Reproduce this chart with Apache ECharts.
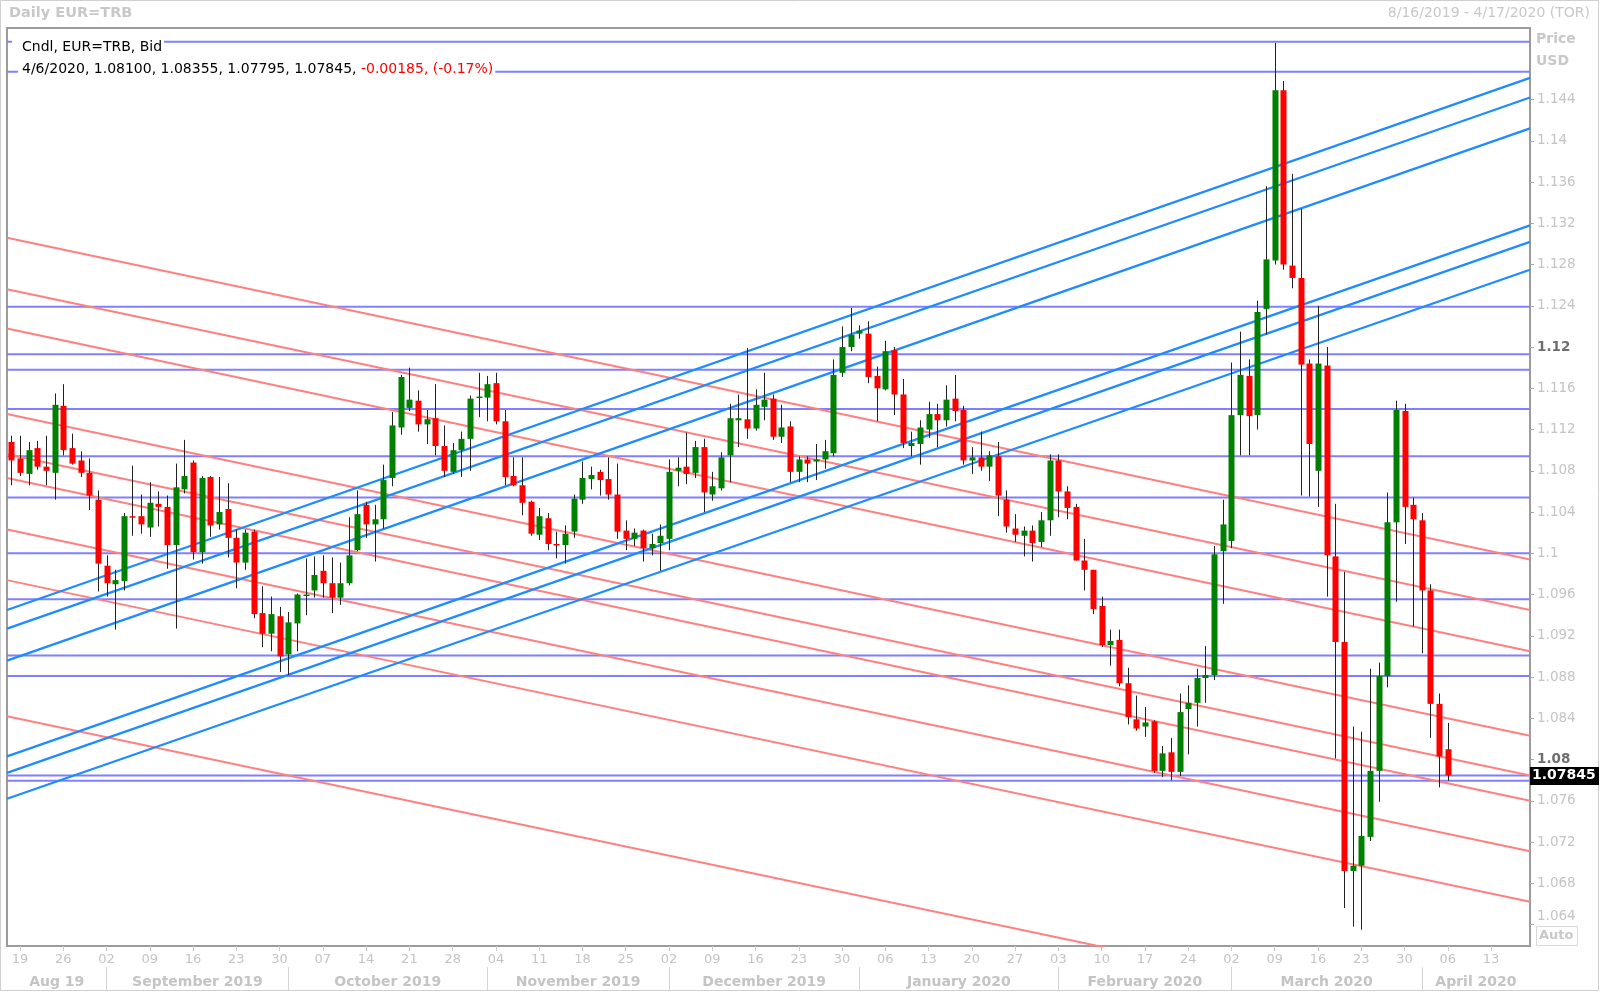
<!DOCTYPE html>
<html><head><meta charset="utf-8">
<script src="https://cdn.jsdelivr.net/npm/echarts@6/dist/echarts.min.js"></script>
<style>html,body{margin:0;padding:0;background:#fff;}#c{width:1600px;height:994px;}</style>
</head><body><div id="c"></div>
<script>
// ---- Daily EUR=TRB candles, trading day index 0 = 8/16/2019 ----
const openP = [
1.1108,1.1092,1.1077,1.1102,1.1084,1.1078,1.1143,1.1102,1.1090,1.1078,
1.1052,1.0988,1.0970,1.0973,1.1036,1.1036,1.1025,1.1048,1.1045,1.1008,
1.1062,1.1088,1.1001,1.1074,1.1028,1.1043,1.1015,1.0991,1.1021,1.0942,
1.0922,1.0939,1.0902,1.0932,1.0959,1.0964,1.0983,1.0971,1.0957,1.0971,
1.1003,1.1047,1.1028,1.1033,1.1073,1.1122,1.1141,1.1148,1.1125,1.1131,
1.1104,1.1079,1.1100,1.1111,1.1151,1.1151,1.1165,1.1128,1.1075,1.1066,
1.1050,1.1018,1.1034,1.1009,1.1008,1.1021,1.1052,1.1072,1.1079,1.1072,
1.1057,1.1022,1.1014,1.1022,1.1005,1.1010,1.1014,1.1080,1.1084,1.1078,
1.1103,1.1057,1.1063,1.1095,1.1129,1.1130,1.1121,1.1142,1.1150,1.1113,
1.1123,1.1079,1.1091,1.1089,1.1091,1.1097,1.1175,1.1200,1.1213,1.1213,
1.1172,1.1159,1.1197,1.1154,1.1104,1.1106,1.1120,1.1135,1.1129,1.1150,
1.1139,1.1090,1.1093,1.1084,1.1094,1.1052,1.1024,1.1017,1.1022,1.1011,
1.1032,1.1090,1.1060,1.1045,1.0993,1.0984,1.0949,1.0911,1.0916,1.0874,
1.0839,1.0832,1.0837,1.0789,1.0807,1.0788,1.0849,1.0855,1.0879,1.0882,
1.1002,1.1012,1.1134,1.1172,1.1134,1.1237,1.1284,1.1449,1.1279,1.1267,
1.1184,1.1080,1.1182,1.0997,1.0914,1.0692,1.0697,1.0725,1.0789,1.0881,
1.1030,1.1138,1.1047,1.1032,1.0964,1.0854,1.0810];
const highP = [
1.1114,1.1114,1.1108,1.1109,1.1114,1.1155,1.1164,1.1116,1.1099,1.1092,
1.1061,1.0998,1.0984,1.1039,1.1085,1.1057,1.1069,1.1060,1.1056,1.1087,
1.1110,1.1090,1.1075,1.1075,1.1074,1.1068,1.1023,1.1023,1.1023,1.0968,
1.0958,1.0948,1.0943,1.0961,1.0995,1.0997,1.0998,1.0996,1.0991,1.1035,
1.1061,1.1050,1.1047,1.1086,1.1137,1.1173,1.1180,1.1158,1.1139,1.1164,
1.1124,1.1107,1.1118,1.1153,1.1175,1.1172,1.1175,1.1139,1.1093,1.1093,
1.1051,1.1044,1.1039,1.1021,1.1027,1.1057,1.1089,1.1084,1.1081,1.1093,
1.1087,1.1032,1.1024,1.1023,1.1019,1.1028,1.1091,1.1093,1.1117,1.1109,
1.1111,1.1079,1.1098,1.1145,1.1154,1.1199,1.1159,1.1175,1.1154,1.1144,
1.1128,1.1094,1.1094,1.1106,1.1110,1.1188,1.1220,1.1238,1.1221,1.1225,
1.1181,1.1206,1.1200,1.1169,1.1118,1.1129,1.1147,1.1145,1.1163,1.1173,
1.1143,1.1103,1.1118,1.1099,1.1108,1.1061,1.1038,1.1026,1.1027,1.1040,
1.1096,1.1096,1.1065,1.1048,1.1014,1.0984,1.0958,1.0926,1.0926,1.0889,
1.0862,1.0851,1.0838,1.0813,1.0821,1.0864,1.0872,1.0888,1.0910,1.1007,
1.1052,1.1185,1.1215,1.1188,1.1245,1.1356,1.1495,1.1458,1.1368,1.1334,
1.1188,1.1240,1.1200,1.1048,1.0982,1.0832,1.0827,1.0888,1.0894,1.1059,
1.1148,1.1145,1.1054,1.1039,1.0970,1.0864,1.08355];
const lowP = [
1.1066,1.1075,1.1066,1.1081,1.1066,1.1052,1.1095,1.1086,1.1074,1.1042,
1.0963,1.0958,1.0926,1.0964,1.1017,1.1019,1.1016,1.1026,1.0985,1.0927,
1.1058,1.0994,1.0990,1.1016,1.1023,1.0996,1.0966,1.0984,1.0937,1.0909,
1.0905,1.0885,1.0882,1.0905,1.0940,1.0957,1.0957,1.0942,1.0950,1.0969,
1.1002,1.1015,1.0992,1.1024,1.1065,1.1115,1.1138,1.1118,1.1106,1.1095,
1.1074,1.1077,1.1074,1.1080,1.1132,1.1128,1.1125,1.1066,1.1065,1.1037,
1.1017,1.1013,1.1003,1.0995,1.0990,1.1015,1.1048,1.1062,1.1056,1.1052,
1.1014,1.1003,1.1007,1.0992,1.0998,1.0983,1.1003,1.1065,1.1067,1.1073,
1.1040,1.1051,1.1061,1.1069,1.1103,1.1111,1.1119,1.1129,1.1110,1.1107,
1.1069,1.1069,1.1069,1.1071,1.1082,1.1094,1.1171,1.1196,1.1208,1.1165,
1.1128,1.1158,1.1134,1.1102,1.1094,1.1086,1.1112,1.1103,1.1123,1.1128,
1.1086,1.1077,1.1080,1.1070,1.1036,1.1020,1.1011,1.0997,1.0992,1.1006,
1.1017,1.1035,1.1033,1.0993,1.0964,1.0941,1.0909,1.0891,1.0871,1.0834,
1.0828,1.0822,1.0787,1.0783,1.0780,1.0784,1.0805,1.0832,1.0855,1.0877,
1.0951,1.1005,1.1095,1.1095,1.1120,1.1212,1.1280,1.1275,1.1257,1.1056,
1.1055,1.1045,1.0958,1.0801,1.0656,1.0638,1.0635,1.0721,1.0759,1.0870,
1.0953,1.1009,1.0929,1.0903,1.0821,1.0773,1.07795];
const closeP = [
1.1090,1.1078,1.1100,1.1084,1.1080,1.1144,1.1100,1.1087,1.1078,1.1056,
1.0990,1.0971,1.0974,1.1036,1.1035,1.1028,1.1049,1.1045,1.1008,1.1064,
1.1075,1.1001,1.1073,1.1027,1.1040,1.1015,1.0991,1.1020,1.0941,1.0922,
1.0941,1.0900,1.0933,1.0960,1.0960,1.0979,1.0971,1.0957,1.0971,1.0998,
1.1038,1.1028,1.1033,1.1071,1.1124,1.1171,1.1149,1.1125,1.1130,1.1104,
1.1080,1.1100,1.1111,1.1150,1.1152,1.1164,1.1128,1.1074,1.1066,1.1049,
1.1019,1.1036,1.1009,1.1008,1.1019,1.1053,1.1073,1.1076,1.1071,1.1057,
1.1021,1.1014,1.1020,1.1005,1.1009,1.1017,1.1079,1.1083,1.1077,1.1103,
1.1059,1.1065,1.1093,1.1131,1.1131,1.1121,1.1144,1.1149,1.1113,1.1122,
1.1079,1.1091,1.1087,1.1091,1.1099,1.1173,1.1200,1.1212,1.1216,1.1171,
1.1160,1.1196,1.1154,1.1107,1.1107,1.1122,1.1135,1.1129,1.1149,1.1138,
1.1090,1.1093,1.1084,1.1095,1.1056,1.1026,1.1018,1.1022,1.1010,1.1032,
1.1090,1.1060,1.1044,1.0993,1.0984,1.0946,1.0911,1.0915,1.0874,1.0841,
1.0830,1.0836,1.0789,1.0806,1.0788,1.0846,1.0855,1.0879,1.0882,1.0999,
1.1028,1.1134,1.1173,1.1133,1.1234,1.1285,1.1449,1.1280,1.1267,1.1183,
1.1106,1.1184,1.0998,1.0914,1.0692,1.0697,1.0726,1.0789,1.0881,1.1030,
1.1139,1.1045,1.1033,1.0964,1.0854,1.0803,1.07845];

// horizontal levels
const hLevels = [1.1496,1.1467,1.1239,1.1193,1.1178,1.1140,1.1094,1.1054,1.1000,1.09555,1.0901,1.0881,1.07845,1.07795];
// trend lines: [value at left edge, value at right edge]
const blueLines = [[1.0945,1.1461],[1.0927,1.1442],[1.0896,1.1412],[1.0803,1.1318],[1.0787,1.1302],[1.0762,1.1275]];
const redLines = [[1.1306,1.0994],[1.1256,1.0945],[1.1218,1.0905],[1.1135,1.0823],[1.1096,1.07845],[1.1073,1.0760],[1.1023,1.0711],[1.0974,1.0662],[1.0842,1.0531]];

const yTicks = [1.064,1.068,1.072,1.076,1.08,1.084,1.088,1.092,1.096,1.1,1.104,1.108,1.112,1.116,1.12,1.124,1.128,1.132,1.136,1.14,1.144];
const yTickLabels = ['1.064','1.068','1.072','1.076','1.08','1.084','1.088','1.092','1.096','1.1','1.104','1.108','1.112','1.116','1.12','1.124','1.128','1.132','1.136','1.14','1.144'];
const weekIdx = [1,6,11,16,21,26,31,36,41,46,51,56,61,66,71,76,81,86,91,96,101,106,111,116,121,126,131,136,141,146,151,156,161,166,171];
const weekLabels = ['19','26','02','09','16','23','30','07','14','21','28','04','11','18','25','02','09','16','23','30','06','13','20','27','03','10','17','24','02','09','16','23','30','06','13'];
const monthStartIdx = [11,32,55,76,98,121,141,163];
const monthMidIdx = [5.25,21.5,43.5,65.5,87,109.5,131,152,169.25];
const monthLabels = ['Aug 19','September 2019','October 2019','November 2019','December 2019','January 2020','February 2020','March 2020','April 2020'];
const lastClose = 1.07845;

const X_MIN = -0.5, X_MAX = 175.5;
const FONT = 'DejaVu Sans';

const candleData = openP.map((o, i) => [i, o, closeP[i], lowP[i], highP[i]]);

function lookup(arr, labels, v) {
  let best = 0, bd = Infinity;
  arr.forEach((a, k) => { const d = Math.abs(a - v); if (d < bd) { bd = d; best = k; } });
  return bd < 1e-6 ? labels[best] : '';
}

const series = [];
hLevels.forEach(v => series.push({
  type: 'line', xAxisIndex: 0, yAxisIndex: 0, data: [[X_MIN, v], [X_MAX, v]],
  symbol: 'none', silent: true, z: 2, lineStyle: { color: '#8080ff', width: 2 }
}));
redLines.forEach(l => series.push({
  type: 'line', xAxisIndex: 0, yAxisIndex: 0, data: [[X_MIN, l[0]], [X_MAX, l[1]]],
  symbol: 'none', silent: true, z: 3, clip: true, lineStyle: { color: '#ff8080', width: 2 }
}));
blueLines.forEach(l => series.push({
  type: 'line', xAxisIndex: 0, yAxisIndex: 0, data: [[X_MIN, l[0]], [X_MAX, l[1]]],
  symbol: 'none', silent: true, z: 4, clip: true, lineStyle: { color: '#1e8cff', width: 2.3 }
}));
series.push({
  type: 'custom', xAxisIndex: 0, yAxisIndex: 0, z: 5, clip: true,
  data: candleData,
  renderItem: function (params, api) {
    const i = api.value(0), o = api.value(1), c = api.value(2), l = api.value(3), h = api.value(4);
    const pO = api.coord([i, o]), pC = api.coord([i, c]), pL = api.coord([i, l]), pH = api.coord([i, h]);
    const cx = Math.round(pO[0]);
    const top = Math.min(pO[1], pC[1]), bot = Math.max(pO[1], pC[1]);
    const bw = 6;
    return {
      type: 'group', children: [
        { type: 'line', shape: { x1: cx + 0.5, y1: pH[1], x2: cx + 0.5, y2: pL[1] }, style: { stroke: '#222', lineWidth: 1 } },
        { type: 'rect', shape: { x: cx - 2.5, y: top, width: bw, height: Math.max(bot - top, 1.5) },
          style: { fill: c >= o ? '#008000' : '#ff0000' } }
      ]
    };
  }
});

const chart = echarts.init(document.getElementById('c'), null, { renderer: 'canvas' });
chart.setOption({
  animation: false,
  backgroundColor: '#fff',
  grid: { left: 7, right: 70, top: 28, bottom: 48, show: true, borderColor: '#9c9c9c', borderWidth: 2, backgroundColor: '#fff' },
  xAxis: [
    { type: 'value', min: X_MIN, max: X_MAX, position: 'bottom',
      axisLine: { show: false, onZero: false }, splitLine: { show: false },
      axisTick: { show: true, customValues: weekIdx, length: 5, lineStyle: { color: '#c8c8c8' } },
      axisLabel: { customValues: weekIdx, margin: 7, color: '#c4c4c4', fontSize: 13, fontFamily: FONT,
        formatter: v => lookup(weekIdx, weekLabels, v) } },
    { type: 'value', min: X_MIN, max: X_MAX, position: 'bottom', offset: 21,
      axisLine: { show: false, onZero: false }, splitLine: { show: false },
      axisTick: { show: true, customValues: monthStartIdx, length: 24, lineStyle: { color: '#d4d4d4' } },
      axisLabel: { customValues: monthMidIdx, margin: 8, color: '#c4c4c4', fontSize: 14, fontWeight: 'bold', fontFamily: FONT,
        formatter: v => lookup(monthMidIdx, monthLabels, v) } }
  ],
  yAxis: [{
    type: 'value', position: 'right', min: 1.061918, max: 1.15094,
    axisLine: { show: false, onZero: false }, splitLine: { show: false },
    axisTick: { show: true, customValues: yTicks, length: 4, lineStyle: { color: '#a8a8a8' } },
    axisLabel: {
      customValues: yTicks, margin: 7, color: '#c4c4c4', fontSize: 13.5, fontFamily: FONT,
      formatter: v => {
        const s = lookup(yTicks, yTickLabels, v);
        if (s === '1.12' || s === '1.08') return '{b|' + s + '}';
        if (s === '1.064') return '{s|' + s + '}';
        return s;
      },
      rich: {
        b: { fontWeight: 'bold', color: '#6e6e6e', fontSize: 13.5, fontFamily: FONT },
        s: { color: '#c4c4c4', fontSize: 13.5, fontFamily: FONT, padding: [0, 0, 16, 0] }
      }
    }
  }],
  series: series
});

const yLast = chart.convertToPixel({ yAxisIndex: 0 }, lastClose);
const gridRight = 1530;
chart.setOption({
  graphic: [
    { type: 'rect', silent: true, z: 0, shape: { x: 0.5, y: 0.5, width: 1598, height: 990 }, style: { fill: null, stroke: '#cfcfcf', lineWidth: 1 } },
    { type: 'text', z: 100, left: 9, top: 6, style: { text: 'Daily EUR=TRB', font: 'bold 14.5px "DejaVu Sans"', fill: '#c8c8c8' } },
    { type: 'text', z: 100, right: 10, top: 6, style: { text: '8/16/2019 - 4/17/2020 (TOR)', font: '14px "DejaVu Sans"', fill: '#c8c8c8' } },
    { type: 'text', z: 100, left: 12, top: 39, style: { text: 'Cndl, EUR=TRB, Bid', font: '14px "DejaVu Sans"', fill: '#000', backgroundColor: '#fff', padding: [1, 2, 1, 10] } },
    { type: 'text', z: 100, left: 18, top: 61, style: {
        text: '{k|4/6/2020, 1.08100, 1.08355, 1.07795, 1.07845, }{r|-0.00185, (-0.17%)}',
        backgroundColor: '#fff', padding: [1, 2, 1, 4],
        rich: { k: { font: '14px "DejaVu Sans"', fill: '#000', color: '#000' }, r: { font: '14px "DejaVu Sans"', fill: '#ff0000', color: '#ff0000' } } } },
    { type: 'text', z: 100, left: 1536, top: 32, style: { text: 'Price', font: 'bold 14px "DejaVu Sans"', fill: '#c8c8c8' } },
    { type: 'text', z: 100, left: 1536, top: 54, style: { text: 'USD', font: 'bold 14px "DejaVu Sans"', fill: '#c8c8c8' } },
    { type: 'rect', z: 100, silent: true, shape: { x: 1536.5, y: 926.5, width: 41, height: 19 }, style: { fill: '#fff', stroke: '#d8d8d8', lineWidth: 1 } },
    { type: 'text', z: 101, left: 1539, top: 929, style: { text: 'Auto', font: 'bold 13px "DejaVu Sans"', fill: '#c8c8c8' } },
    { type: 'rect', z: 100, silent: true, shape: { x: gridRight, y: Math.round(yLast) - 9, width: 69, height: 18 }, style: { fill: '#000' } },
    { type: 'text', z: 101, left: gridRight + 2, top: Math.round(yLast) - 8, style: { text: '1.07845', font: 'bold 14px "DejaVu Sans"', fill: '#fff' } }
  ]
});
</script>
</body></html>
